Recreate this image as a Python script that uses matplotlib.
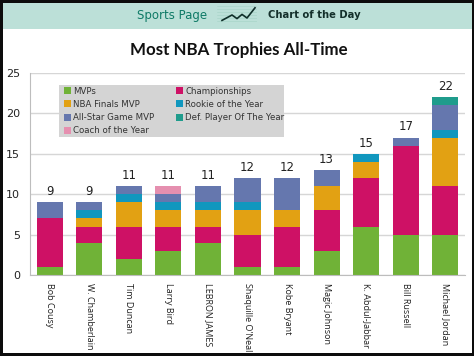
import numpy as np
import matplotlib.pyplot as plt
from matplotlib.patches import Rectangle

players = ["Bob Cousy", "W. Chamberlain", "Tim Duncan", "Larry Bird", "LEBRON JAMES",
           "Shaquille O'Neal", "Kobe Bryant", "Magic Johnson", "K. Abdul-Jabbar",
           "Bill Russell", "Michael Jordan"]
mvps = [1, 4, 2, 3, 4, 1, 1, 3, 6, 5, 5]
championships = [6, 2, 4, 3, 2, 4, 5, 5, 6, 11, 6]
finals_mvp = [0, 1, 3, 2, 2, 3, 2, 3, 2, 0, 6]
rookie = [0, 1, 1, 1, 1, 1, 0, 0, 1, 0, 1]
allstar = [2, 1, 1, 1, 2, 3, 4, 2, 0, 1, 3]
def_player = [0, 0, 0, 0, 0, 0, 0, 0, 0, 0, 1]
coach = [0, 0, 0, 1, 0, 0, 0, 0, 0, 0, 0]

series = [("MVPs", mvps, "#70B237"),
          ("Championships", championships, "#CE1165"),
          ("NBA Finals MVP", finals_mvp, "#E2A113"),
          ("Rookie of the Year", rookie, "#1197BE"),
          ("All-Star Game MVP", allstar, "#6577AE"),
          ("Def. Player Of The Year", def_player, "#1F9C8C"),
          ("Coach of the Year", coach, "#E58FAF")]

W, H = 474, 356
fig = plt.figure(figsize=(W/100, H/100), dpi=100, facecolor="#0C0C0C")

# white page inside the black frame, header band on top of it
fig.add_artist(Rectangle((3/W, 3/H), 469/W, 350/H, transform=fig.transFigure, fc="white", ec="none", zorder=-2))
fig.add_artist(Rectangle((3/W, 1-29/H), 469/W, 26/H, transform=fig.transFigure, fc="#BCE0D8", ec="none", zorder=-1))
fig.text(172/W, 1-15/H, "Sports Page", color="#0E7A66", fontsize=8.5, family="DejaVu Sans",
         ha="center", va="center")
fig.text(314/W, 1-15/H, "Chart of the Day", color="#14302B", fontsize=7.2, family="DejaVu Sans",
         weight="bold", ha="center", va="center")
fig.text(238.5/W, 1-50/H, "Most NBA Trophies All-Time", color="#111111", fontsize=12.2,
         family="Lato", weight="bold", ha="center", va="center")

# little sparkline icon in the header
icon = fig.add_axes([217/W, 1-24/H, 40/W, 18/H], zorder=2)
icon.set_xlim(0, 8)
icon.set_ylim(0, 6)
icon.axis("off")
for gy in range(0, 7):
    icon.axhline(gy, color="#A3D2C6", lw=0.4, zorder=1)
icon.plot([1, 3, 4, 5, 6, 7.6], [1.2, 3, 1.8, 3.2, 2, 5.4], color="#0F2F29", lw=1.2, zorder=3)

ax = fig.add_axes([30/W, 1-275/H, 435/W, 202/H])
x = np.arange(len(players))
bottom = np.zeros(len(players))
handles = {}
for name, vals, col in series:
    bars = ax.bar(x, vals, 0.66, bottom=bottom, color=col, label=name, zorder=3)
    handles[name] = bars
    bottom = bottom + np.array(vals)

for xi, tot in zip(x, bottom):
    ax.annotate(str(int(tot)), (xi, tot), xytext=(0, 3), textcoords="offset points",
                ha="center", va="bottom", fontsize=8.5, color="#222222", family="DejaVu Sans")

ax.set_xlim(-0.5, len(players)-0.5)
ax.set_ylim(0, 25)
ax.set_yticks([0, 5, 10, 15, 20, 25])
ax.set_xticks(x)
ax.set_xticklabels(players, rotation=270, fontsize=6.5, family="Open Sans", color="#222222")
ax.tick_params(axis="x", length=0, pad=6)
ax.tick_params(axis="y", length=0, pad=7, labelsize=8, labelcolor="#222222")
ax.grid(axis="y", color="#D6D6D6", lw=1, zorder=0)
for s in ["top", "right"]:
    ax.spines[s].set_visible(False)
ax.spines["left"].set_color("#BDBDBD")
ax.spines["bottom"].set_color("#BDBDBD")
ax.spines["bottom"].set_zorder(4)

# legend box is drawn apart because its padding is not even
ax.add_patch(Rectangle((29/435, 1-64/202), 225/435, 52/202, transform=ax.transAxes,
                       fc="#D4D4D4", ec="none", zorder=4))
order = ["MVPs", "NBA Finals MVP", "All-Star Game MVP", "Coach of the Year",
         "Championships", "Rookie of the Year", "Def. Player Of The Year"]
leg = ax.legend([handles[n] for n in order], order, ncol=2, loc="upper left",
                bbox_to_anchor=(34/435, 1-13.5/202), borderaxespad=0, fontsize=6.2,
                frameon=False, handlelength=0.85, handleheight=0.9, handletextpad=0.25,
                labelspacing=0.5, columnspacing=2.45, borderpad=0, labelcolor="#333333")
leg.set_zorder(5)

fig.savefig("out.png", dpi=100, facecolor=fig.get_facecolor())
